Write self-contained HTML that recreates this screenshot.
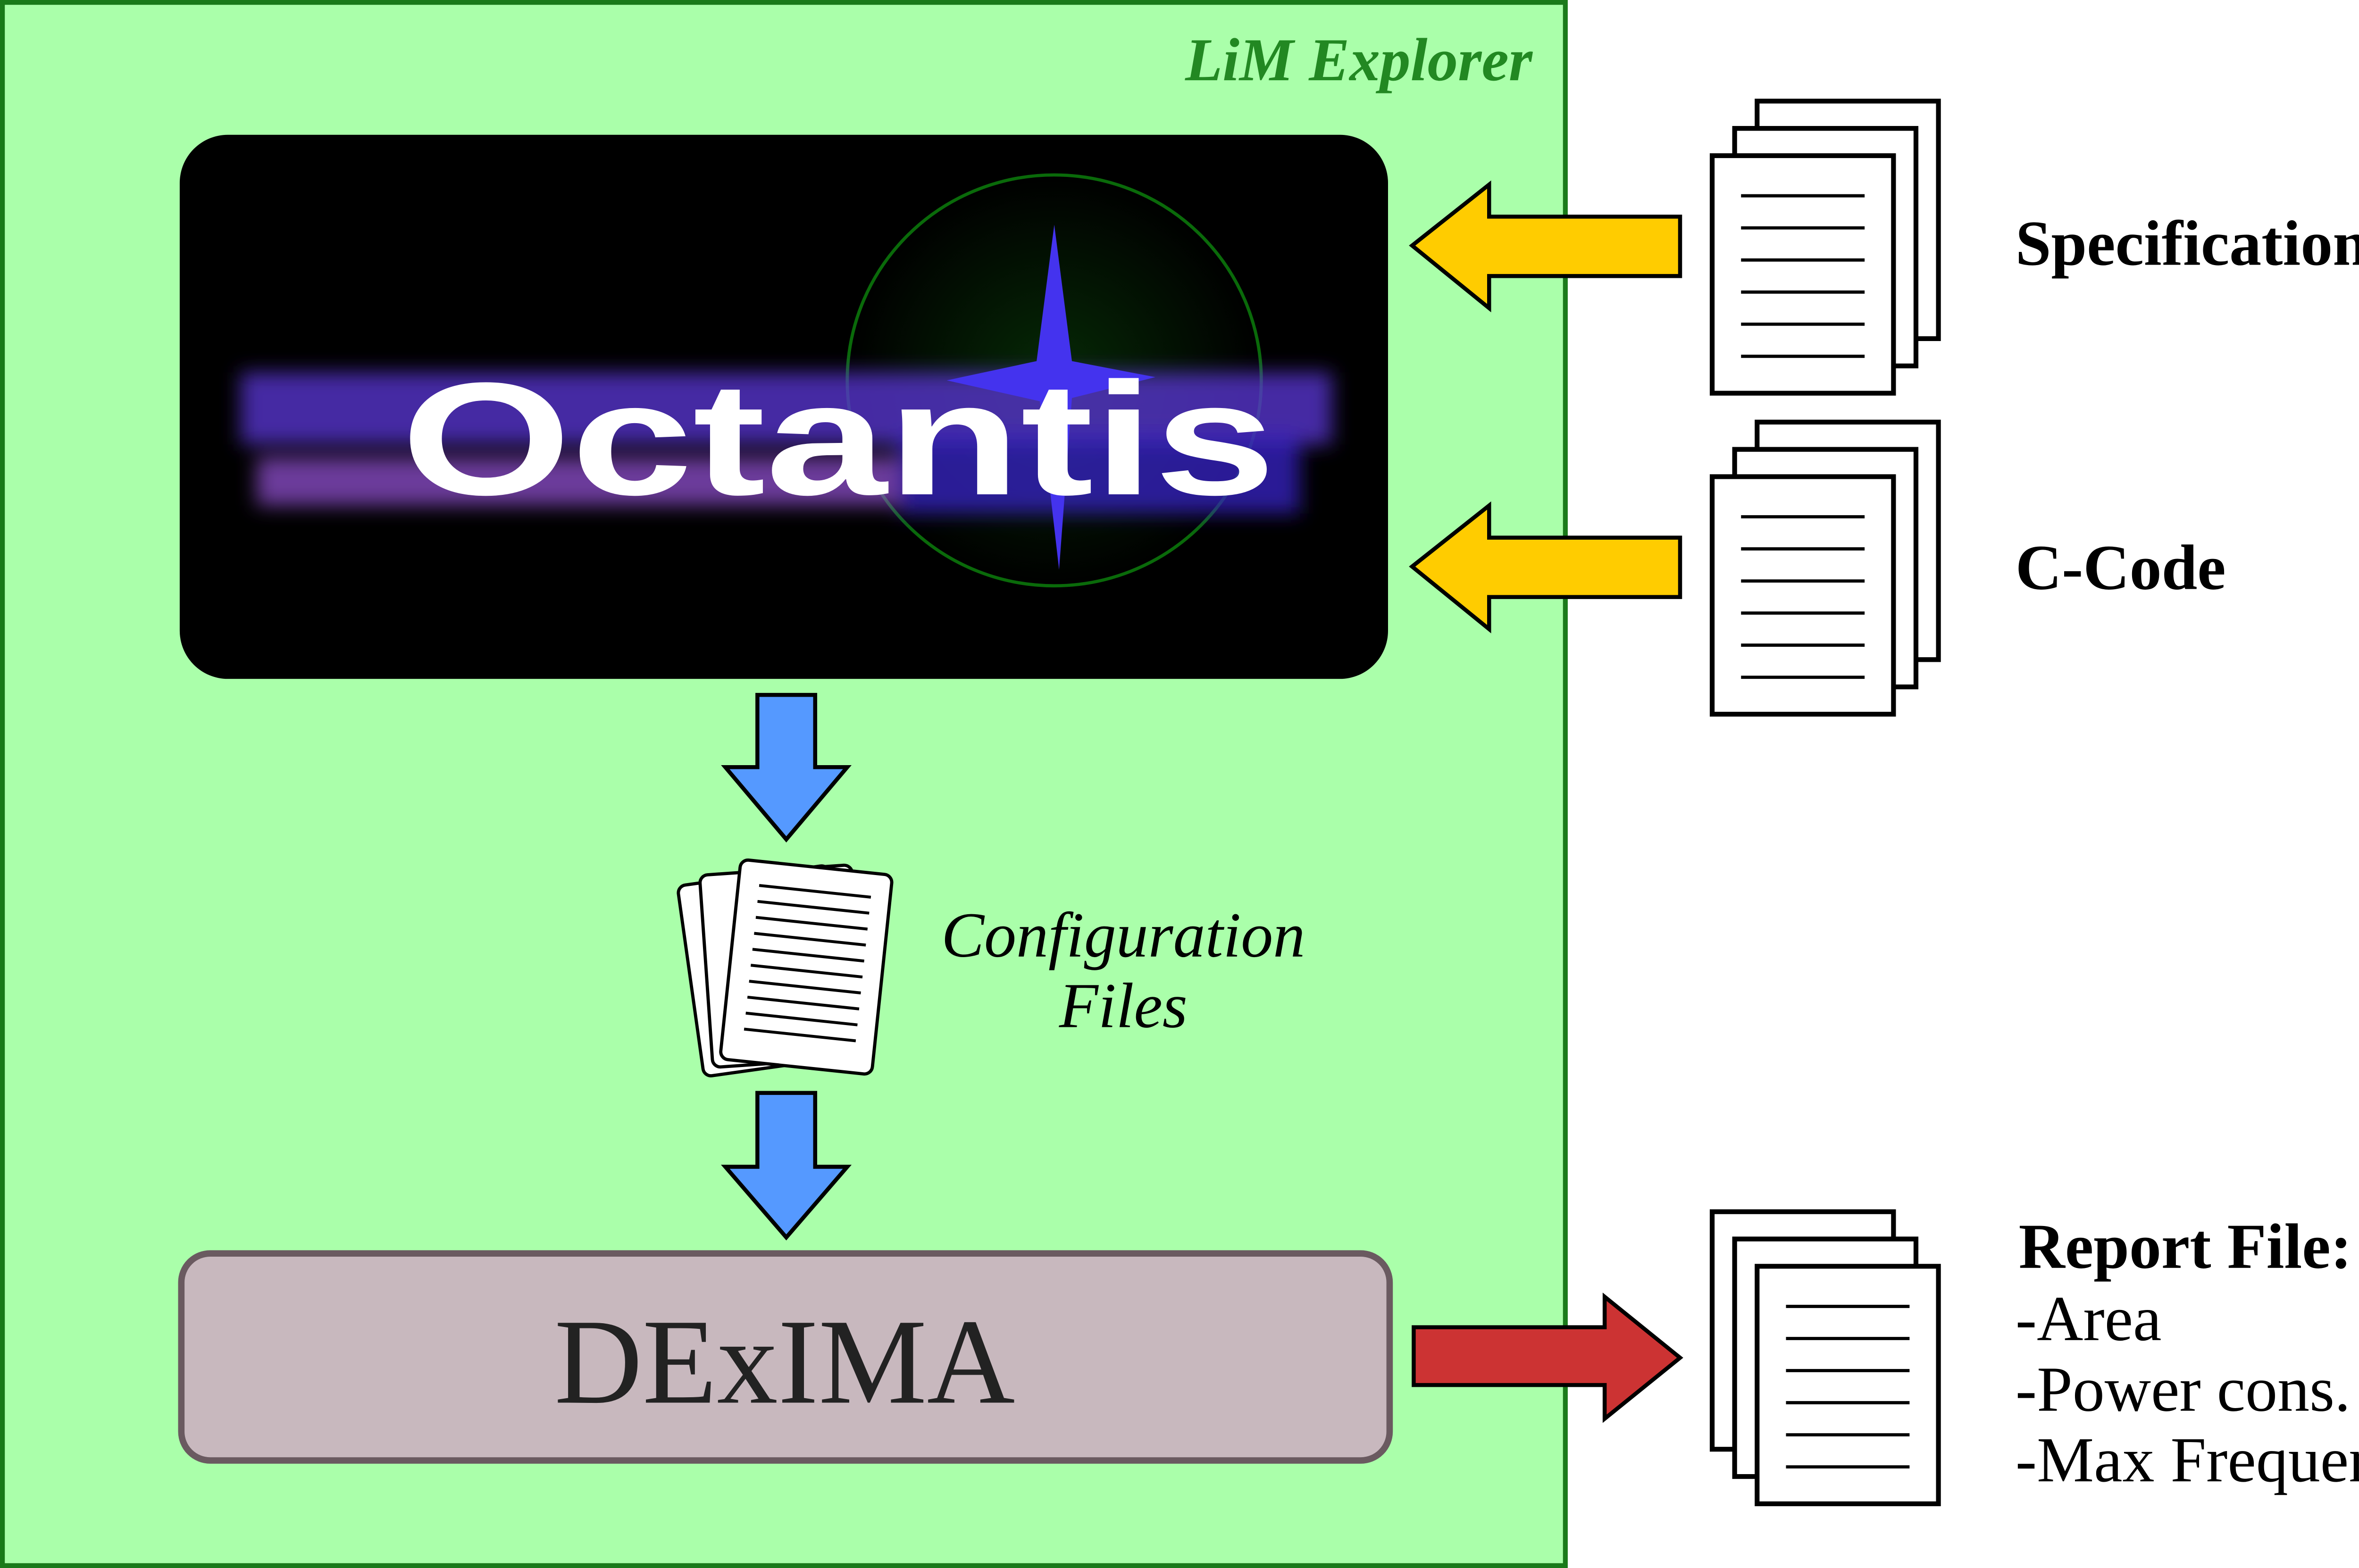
<!DOCTYPE html>
<html><head><meta charset="utf-8"><style>html,body{margin:0;padding:0;background:#fff}svg{display:block}</style></head>
<body>
<svg width="5333" height="3324" viewBox="0 0 1568 977" preserveAspectRatio="none" xmlns="http://www.w3.org/2000/svg">
<defs>
<filter id="bl" x="-20%" y="-50%" width="140%" height="200%"><feGaussianBlur stdDeviation="6"/></filter>
<radialGradient id="cg" cx="0.5" cy="0.5" r="0.5"><stop offset="0" stop-color="#062a06"/><stop offset="1" stop-color="#000"/></radialGradient>
<g id="pg"><rect x="0" y="0" width="113" height="148" fill="#fff" stroke="#000" stroke-width="3"/>
<g stroke="#000" stroke-width="2"><line x1="18" y1="25" x2="95" y2="25"/><line x1="18" y1="45" x2="95" y2="45"/><line x1="18" y1="65" x2="95" y2="65"/><line x1="18" y1="85" x2="95" y2="85"/><line x1="18" y1="105" x2="95" y2="105"/><line x1="18" y1="125" x2="95" y2="125"/></g></g>
</defs>
<rect x="1.5" y="1.5" width="974" height="974" fill="#aaffaa" stroke="#1a7a1a" stroke-width="3"/>
<text x="955" y="50" text-anchor="end" font-family="Liberation Serif, serif" font-style="italic" font-weight="bold" font-size="38" fill="#228822">LiM Explorer</text>
<rect x="112" y="84" width="753" height="339" rx="30" fill="#000"/>
<ellipse cx="657" cy="237" rx="129" ry="128" fill="url(#cg)" stroke="#0a6a0a" stroke-width="2"/>
<g filter="url(#bl)">
<rect x="150" y="232" width="680" height="45" fill="#5533cc" opacity="0.8"/>
<rect x="160" y="285" width="400" height="30" fill="#9955dd" opacity="0.7"/>
<rect x="560" y="270" width="250" height="50" fill="#3322bb" opacity="0.8"/>
</g>
<polygon points="657,140 668,225 720,235 668,248 660,355 648,250 590,237 646,225" fill="#4433ee"/>
<text x="250" y="308" font-family="Liberation Sans, sans-serif" font-weight="bold" font-size="100" fill="#fff" textLength="545" lengthAdjust="spacingAndGlyphs">Octantis</text>
<polygon points="880,153 928,115 928,135 1047,135 1047,172 928,172 928,192" fill="#ffcc00" stroke="#000" stroke-width="2.5"/>
<polygon points="880,353 928,315 928,335 1047,335 1047,372 928,372 928,392" fill="#ffcc00" stroke="#000" stroke-width="2.5"/>
<use href="#pg" x="1095" y="63"/><use href="#pg" x="1081" y="80"/><use href="#pg" x="1067" y="97"/>
<use href="#pg" x="1095" y="263"/><use href="#pg" x="1081" y="280"/><use href="#pg" x="1067" y="297"/>
<use href="#pg" x="1067" y="755"/><use href="#pg" x="1081" y="772"/><use href="#pg" x="1095" y="789"/>
<g font-family="Liberation Serif, serif" font-size="40" fill="#000">
<text x="1256" y="165" font-weight="bold">Specifications</text>
<text x="1256" y="367" font-weight="bold">C-Code</text>
<text x="1258" y="790" font-weight="bold">Report File:</text>
<text x="1256" y="835">-Area</text>
<text x="1256" y="879">-Power cons.</text>
<text x="1256" y="923">-Max Frequency</text>
<text x="700" y="596" text-anchor="middle" font-style="italic">Configuration</text>
<text x="700" y="640" text-anchor="middle" font-style="italic">Files</text>
</g>
<polygon points="472,433 508,433 508,478 528,478 490,523 452,478 472,478" fill="#5599ff" stroke="#000" stroke-width="2.5"/>
<polygon points="472,681 508,681 508,727 528,727 490,771 452,727 472,727" fill="#5599ff" stroke="#000" stroke-width="2.5"/>
<g stroke="#000" stroke-width="2" fill="#fff">
<rect x="430" y="545" width="95" height="120" rx="5" transform="rotate(-8 477 605)"/>
<rect x="440" y="542" width="95" height="120" rx="5" transform="rotate(-4 487 602)"/>
<rect x="455" y="540" width="95" height="125" rx="5" transform="rotate(6 502 602)"/>
<g transform="rotate(6 502 602)" stroke-width="1.8">
<line x1="468" y1="555" x2="538" y2="555"/><line x1="468" y1="565" x2="538" y2="565"/><line x1="468" y1="575" x2="538" y2="575"/><line x1="468" y1="585" x2="538" y2="585"/><line x1="468" y1="595" x2="538" y2="595"/><line x1="468" y1="605" x2="538" y2="605"/><line x1="468" y1="615" x2="538" y2="615"/><line x1="468" y1="625" x2="538" y2="625"/><line x1="468" y1="635" x2="538" y2="635"/><line x1="468" y1="645" x2="538" y2="645"/>
</g></g>
<rect x="113" y="781" width="753" height="129" rx="18" fill="#c8b8be" stroke="#6a5a60" stroke-width="4"/>
<text x="489" y="874" text-anchor="middle" font-family="Liberation Serif, serif" font-size="76" fill="#222">DExIMA</text>
<polygon points="881,827 1000,827 1000,808 1047,846 1000,884 1000,863 881,863" fill="#cc3333" stroke="#000" stroke-width="2.5"/>
</svg>
</body></html>
